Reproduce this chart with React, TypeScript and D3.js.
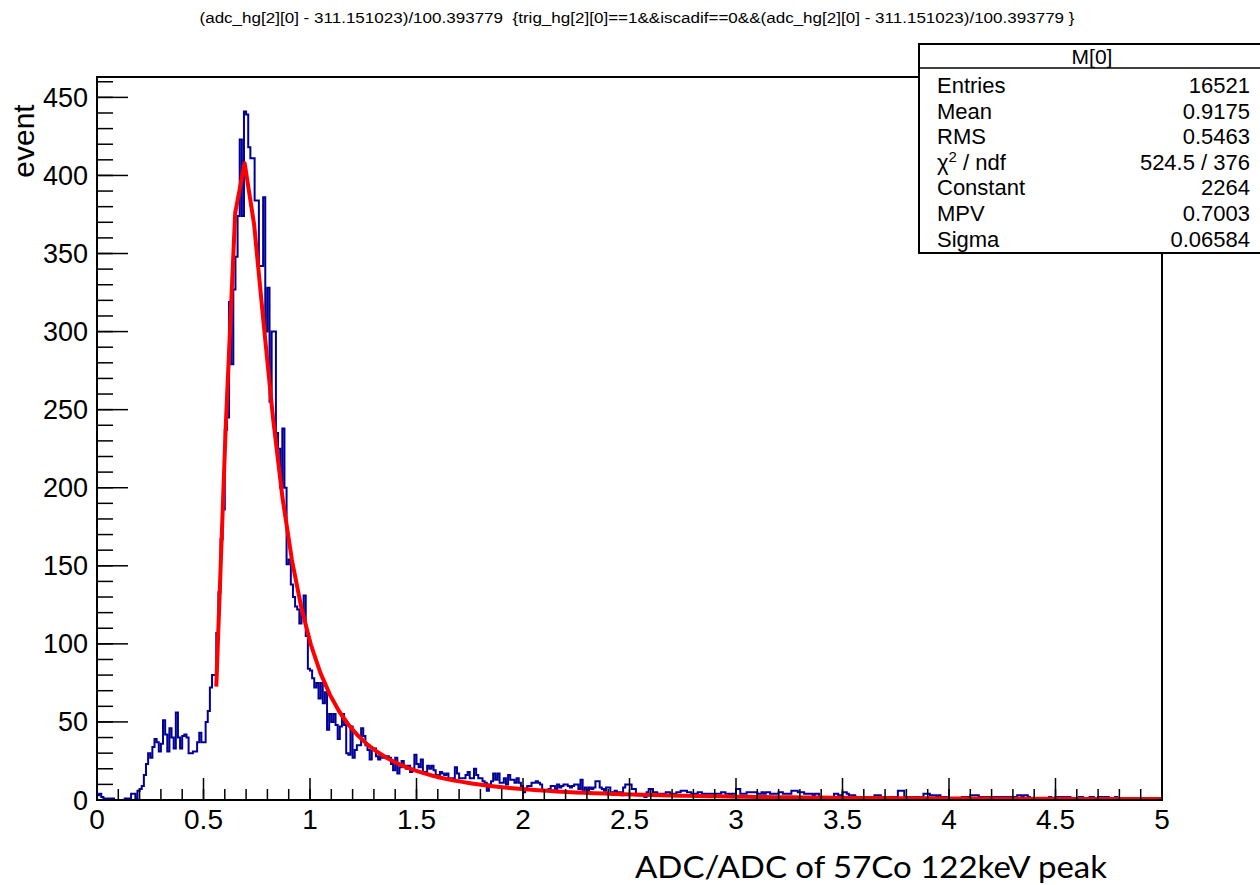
import React from "react";
import * as d3 from "d3";

const TITLE =
  "(adc_hg[2][0] - 311.151023)/100.393779  {trig_hg[2][0]==1&&iscadif==0&&(adc_hg[2][0] - 311.151023)/100.393779 }";
const X_TITLE = "ADC/ADC of 57Co 122keV peak";
const Y_TITLE = "event";
const X_MIN = 0;
const X_MAX = 5;
const N_BINS = 500;

// bin contents, 0.01 wide bins from 0 to 5
const COUNTS_0_54 = [
  3, 4, 2, 1, 1, 1, 1, 1, 0, 0,
  0, 0, 0, 1, 1, 1, 4, 4, 1, 6,
  7, 9, 16, 23, 30, 27, 34, 39, 37, 31,
  36, 51, 42, 31, 46, 40, 33, 56, 40, 33,
  41, 42, 40, 30, 30, 31, 31, 37, 43, 37,
  37, 50, 57, 72, 80,
];
const COUNTS_55_99 = [
  80, 107, 133, 167, 186,
  237, 245, 319, 279, 327,
  348, 374, 423, 374, 441,
  439, 418, 411, 411, 384,
  384, 342, 342, 386, 300,
  328, 255, 300, 300, 235,
  225, 200, 238, 200, 151,
  154, 138, 130, 124, 122,
  113, 120, 131, 105, 84,
];
const COUNTS_100_199 = [
  83, 78, 72, 75, 65, 75, 62, 69, 45, 55,
  50, 55, 48, 39, 47, 55, 48, 30, 29, 47,
  27, 32, 35, 35, 46, 41, 35, 32, 26, 33,
  33, 28, 26, 29, 27, 27, 28, 27, 23, 19,
  27, 17, 21, 25, 22, 20, 22, 18, 19, 29,
  23, 21, 26, 18, 18, 22, 20, 22, 19, 16,
  14, 18, 17, 16, 17, 14, 13, 14, 21, 17,
  14, 14, 14, 16, 18, 14, 14, 20, 16, 14,
  14, 12, 11, 6, 10, 12, 17, 13, 17, 11,
  11, 14, 10, 16, 13, 13, 11, 14, 11, 9,
];
const COUNTS_200_299 = [
  5, 7, 9, 9, 11, 11, 12, 11, 10, 6,
  6, 6, 7, 9, 9, 7, 10, 8, 9, 10,
  10, 9, 8, 9, 10, 10, 7, 13, 5, 8,
  5, 8, 7, 8, 12, 12, 8, 7, 6, 8,
  8, 5, 5, 6, 5, 5, 3, 8, 10, 10,
  10, 7, 7, 3, 3, 3, 3, 2, 5, 7,
  7, 5, 5, 4, 4, 4, 4, 5, 5, 4,
  4, 4, 5, 5, 6, 6, 6, 5, 5, 4,
  4, 4, 5, 5, 4, 4, 4, 4, 4, 3,
  4, 4, 4, 5, 5, 4, 4, 3, 4, 4,
];
const COUNTS_300_399 = [
  7, 7, 4, 4, 4, 5, 5, 5, 5, 5,
  4, 4, 5, 4, 5, 5, 4, 4, 4, 4,
  5, 5, 4, 4, 4, 4, 6, 6, 6, 5,
  5, 5, 4, 4, 4, 4, 3, 4, 4, 2,
  2, 2, 2, 1, 2, 2, 4, 4, 3, 3,
  5, 5, 4, 3, 3, 3, 2, 2, 1, 2,
  2, 2, 1, 2, 2, 3, 3, 3, 2, 2,
  2, 1, 2, 2, 2, 2, 6, 6, 6, 2,
  2, 2, 1, 2, 2, 2, 2, 1, 4, 4,
  4, 3, 3, 3, 2, 3, 2, 2, 2, 1,
];
const COUNTS_400_499 = [
  1, 1, 1, 1, 1, 1, 2, 2, 2, 2,
  3, 3, 3, 3, 2, 2, 2, 2, 2, 1,
  2, 2, 2, 2, 1, 2, 2, 2, 1, 2,
  2, 2, 3, 3, 2, 3, 3, 2, 1, 1,
  1, 1, 1, 1, 0, 1, 1, 2, 1, 1,
  2, 2, 1, 2, 2, 2, 2, 1, 1, 1,
  1, 2, 2, 1, 1, 1, 2, 2, 1, 1,
  2, 2, 1, 2, 2, 1, 1, 1, 2, 1,
  1, 1, 1, 0, 1, 1, 1, 1, 0, 1,
  1, 0, 1, 1, 0, 0, 1, 1, 0, 1,
];
const COUNTS = [
  ...COUNTS_0_54,
  ...COUNTS_55_99,
  ...COUNTS_100_199,
  ...COUNTS_200_299,
  ...COUNTS_300_399,
  ...COUNTS_400_499,
];

// Landau fit parameters (from the stats box)
const FIT_CONSTANT = 2264;
const FIT_MPV = 0.7003;
const FIT_SIGMA = 0.06584;
const FIT_RANGE = [0.56, 5.0];
const FIT_NPX = 100;

const Y_TICKS = [0, 50, 100, 150, 200, 250, 300, 350, 400, 450];
const X_TICKS = [0, 0.5, 1, 1.5, 2, 2.5, 3, 3.5, 4, 4.5, 5];
const X_TICK_LABELS = ["0", "0.5", "1", "1.5", "2", "2.5", "3", "3.5", "4", "4.5", "5"];

const STAT_HEADER = "M[0]";
const STAT_NAMES = ["Entries", "Mean", "RMS", "CHI", "Constant", "MPV", "Sigma"];
const STAT_VALUES = ["16521", "0.9175", "0.5463", "524.5 / 376", "2264", "0.7003", "0.06584"];

// ROOT / CERNLIB DENLAN Landau density
function landau(x: number, mpv: number, sigma: number): number {
  const p1 = [0.4259894875, -0.124976255, 0.039842437, -0.006298287635, 0.001511162253];
  const q1 = [1.0, -0.3388260629, 0.09594393323, -0.01608042283, 0.003778942063];
  const p2 = [0.1788541609, 0.1173957403, 0.01488850518, -0.001394989411, 0.0001283617211];
  const q2 = [1.0, 0.7428795082, 0.3153932961, 0.06694219548, 0.008790609714];
  const p3 = [0.1788544503, 0.09359161662, 0.006325387654, 0.00006611667319, -0.000002031049101];
  const q3 = [1.0, 0.6097809921, 0.2560616665, 0.04746722384, 0.006957301675];
  const p4 = [0.9874054407, 118.6723273, 849.279436, -743.7792444, 427.0262186];
  const q4 = [1.0, 106.8615961, 337.6496214, 2016.712389, 1597.063511];
  const p5 = [1.003675074, 167.5702434, 4789.711289, 21217.86767, -22324.9491];
  const q5 = [1.0, 156.9424537, 3745.310488, 9834.698876, 66924.28357];
  const p6 = [1.000827619, 664.9143136, 62972.92665, 475554.6998, -5743609.109];
  const q6 = [1.0, 651.4101098, 56974.73333, 165917.4725, -2815759.939];
  const a1 = [0.04166666667, -0.01996527778, 0.02709538966];
  const a2 = [-1.84556867, -4.284640743];
  const poly = (c: number[], t: number) => c[0] + (c[1] + (c[2] + (c[3] + c[4] * t) * t) * t) * t;
  const v = (x - mpv) / sigma;
  let u: number;
  if (v < -5.5) {
    u = Math.exp(v + 1.0);
    if (u < 1e-10) return 0;
    const ue = Math.exp(-1 / u);
    const us = Math.sqrt(u);
    return 0.3989422803 * (ue / us) * (1 + (a1[0] + (a1[1] + a1[2] * u) * u) * u);
  } else if (v < -1) {
    u = Math.exp(-v - 1);
    return Math.exp(-u) * Math.sqrt(u) * poly(p1, v) / poly(q1, v);
  } else if (v < 1) {
    return poly(p2, v) / poly(q2, v);
  } else if (v < 5) {
    return poly(p3, v) / poly(q3, v);
  } else if (v < 12) {
    u = 1 / v;
    return u * u * poly(p4, u) / poly(q4, u);
  } else if (v < 50) {
    u = 1 / v;
    return u * u * poly(p5, u) / poly(q5, u);
  } else if (v < 300) {
    u = 1 / v;
    return u * u * poly(p6, u) / poly(q6, u);
  }
  u = 1 / (v - (v * Math.log(v)) / (v + 1));
  return u * u * (1 + (a2[0] + a2[1] * u) * u);
}

const FONT = "'Liberation Sans', Arial, Helvetica, sans-serif";

export default function App() {
  const W = 1260;
  const H = 885;
  const left = 97;
  const right = 1162;
  const top = 77;
  const bottom = 800;

  const yMax = 1.05 * (d3.max(COUNTS) as number);
  const x = d3.scaleLinear().domain([X_MIN, X_MAX]).range([left, right]);
  const y = d3.scaleLinear().domain([0, yMax]).range([bottom, top]);

  const binW = (X_MAX - X_MIN) / N_BINS;
  const histPts: [number, number][] = COUNTS.map((c, i) => [X_MIN + i * binW, c]);
  histPts.push([X_MAX, COUNTS[COUNTS.length - 1]]);
  const histPath = d3
    .line<[number, number]>()
    .x((d) => x(d[0]))
    .y((d) => y(d[1]))
    .curve(d3.curveStepAfter)(histPts) as string;

  const fitPts: [number, number][] = d3.range(FIT_NPX + 1).map((i) => {
    const xv = FIT_RANGE[0] + (i * (FIT_RANGE[1] - FIT_RANGE[0])) / FIT_NPX;
    return [xv, FIT_CONSTANT * landau(xv, FIT_MPV, FIT_SIGMA)];
  });
  const fitPath = d3
    .line<[number, number]>()
    .x((d) => x(d[0]))
    .y((d) => y(d[1]))(fitPts) as string;

  const yMinor = d3.range(0, yMax, 10);
  const xMinor = d3.range(0, 50 + 1).map((i) => i / 10);

  const statX = 919;
  const statTop = 44;
  const statBottom = 253;
  const headerLine = 68;
  const rowBase = (i: number) => 93 + i * 25.6;

  return (
    <svg
      width={W}
      height={H}
      style={{ position: "absolute", left: 0, top: 0, display: "block", background: "#fff" }}
      fontFamily={FONT}
    >
      <rect x={0} y={0} width={W} height={H} fill="#fff" />
      {/* title */}
      <text
        x={637}
        y={23}
        fontSize={14}
        textAnchor="middle"
        textLength={875}
        lengthAdjust="spacingAndGlyphs"
        xmlSpace="preserve"
        style={{ whiteSpace: "pre" }}
        fill="#000"
      >
        {TITLE}
      </text>

      {/* histogram */}
      <path d={histPath} fill="none" stroke="#000099" strokeWidth={2} />
      {/* fit */}
      <path d={fitPath} fill="none" stroke="#ff0000" strokeWidth={4} strokeLinejoin="round" />

      {/* frame */}
      <rect x={left} y={top} width={right - left} height={bottom - top} fill="none" stroke="#000" strokeWidth={2} />

      {/* y ticks */}
      {yMinor.map((v) => (
        <line key={"ym" + v} x1={left} x2={left + 16} y1={y(v)} y2={y(v)} stroke="#000" strokeWidth={1.5} />
      ))}
      {Y_TICKS.map((v) => (
        <g key={"y" + v}>
          <line x1={left} x2={left + 31} y1={y(v)} y2={y(v)} stroke="#000" strokeWidth={1.5} />
          <text x={88} y={y(v) + 9.5} fontSize={27} textAnchor="end" fill="#000">
            {v}
          </text>
        </g>
      ))}
      {/* x ticks */}
      {xMinor.map((v) => (
        <line key={"xm" + v} x1={x(v)} x2={x(v)} y1={bottom} y2={bottom - 11} stroke="#000" strokeWidth={1.5} />
      ))}
      {X_TICKS.map((v, i) => (
        <g key={"x" + v}>
          <line x1={x(v)} x2={x(v)} y1={bottom} y2={bottom - 22} stroke="#000" strokeWidth={1.5} />
          <text x={x(v)} y={829} fontSize={28} textAnchor="middle" fill="#000">
            {X_TICK_LABELS[i]}
          </text>
        </g>
      ))}

      {/* axis titles */}
      <text x={34} y={141} fontSize={30} textAnchor="middle" transform="rotate(-90 34 141)" fill="#000">
        {Y_TITLE}
      </text>
      <text
        x={635}
        y={878}
        fontSize={31}
        fontFamily="Lato, 'Open Sans', sans-serif"
        textLength={472}
        lengthAdjust="spacingAndGlyphs"
        fill="#000"
      >
        {X_TITLE}
      </text>

      {/* stats box */}
      <rect x={statX} y={statTop} width={W - statX + 5} height={statBottom - statTop} fill="#fff" stroke="#000" strokeWidth={2} />
      <line x1={statX} x2={W} y1={headerLine} y2={headerLine} stroke="#000" strokeWidth={1.5} />
      <text x={1092} y={64} fontSize={21} textAnchor="middle" fill="#000">
        {STAT_HEADER}
      </text>
      {STAT_NAMES.map((n, i) => (
        <g key={n}>
          <text x={937} y={rowBase(i)} fontSize={22} fill="#000">
            {n === "CHI" ? (
              <>
                <tspan>χ</tspan>
                <tspan dy={-8} fontSize={15}>
                  2
                </tspan>
                <tspan dy={8}> / ndf</tspan>
              </>
            ) : (
              n
            )}
          </text>
          <text x={1250} y={rowBase(i)} fontSize={22} textAnchor="end" fill="#000">
            {STAT_VALUES[i]}
          </text>
        </g>
      ))}
    </svg>
  );
}
